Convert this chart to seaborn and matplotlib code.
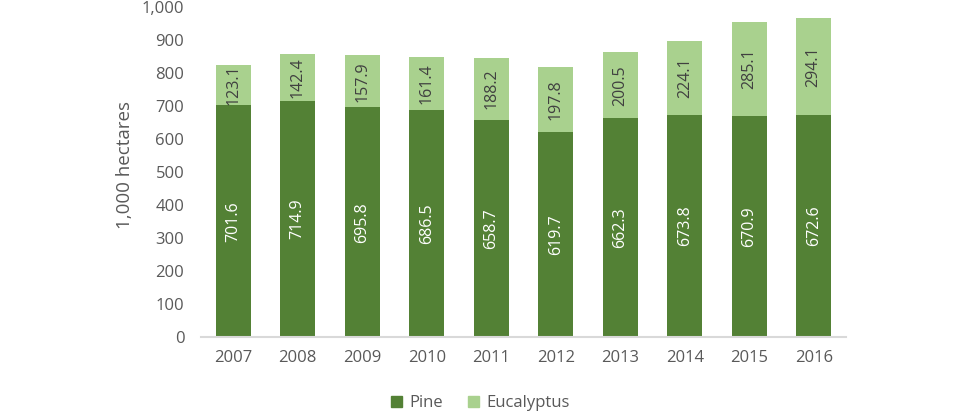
import matplotlib
matplotlib.use("Agg")
import matplotlib.pyplot as plt
import seaborn as sns
import pandas as pd
from matplotlib.patches import Patch
from matplotlib.ticker import FuncFormatter

years = ["2007", "2008", "2009", "2010", "2011", "2012", "2013", "2014", "2015", "2016"]
pine = [701.6, 714.9, 695.8, 686.5, 658.7, 619.7, 662.3, 673.8, 670.9, 672.6]
eucalyptus = [123.1, 142.4, 157.9, 161.4, 188.2, 197.8, 200.5, 224.1, 285.1, 294.1]

PINE_C = "#538135"
EUC_C = "#A9D18E"
TXT_C = "#595959"

sns.set_theme(style="white")
plt.rcParams["font.family"] = ["Open Sans", "DejaVu Sans"]

df = pd.DataFrame({"year": years, "pine": pine, "euc": eucalyptus})
df["total"] = df["pine"] + df["euc"]

fig = plt.figure(figsize=(9.6, 4.12), dpi=100)
ax = fig.add_axes([201 / 960, 1 - 337 / 412, 645 / 960, 330 / 412])

sns.barplot(data=df, x="year", y="total", color=EUC_C, saturation=1, width=0.54,
            linewidth=0, ax=ax)
sns.barplot(data=df, x="year", y="pine", color=PINE_C, saturation=1, width=0.54,
            linewidth=0, ax=ax)

for i, (p, e) in enumerate(zip(pine, eucalyptus)):
    ax.text(i, p / 2, f"{p:.1f}", rotation=90, ha="center", va="center",
            color="white", fontsize=11.5)
    ax.text(i, p + e / 2, f"{e:.1f}", rotation=90, ha="center", va="center",
            color="#404040", fontsize=11.5)

ax.set_xlim(-0.5, 9.5)
ax.set_ylim(0, 1000)
ax.set_yticks(range(0, 1001, 100))
ax.yaxis.set_major_formatter(FuncFormatter(lambda v, _: f"{int(v):,}"))
ax.tick_params(axis="both", length=0, labelsize=12, labelcolor=TXT_C)
ax.tick_params(axis="x", pad=9)
ax.tick_params(axis="y", pad=12)
ax.set_xlabel("")
ax.set_ylabel("1,000 hectares", fontsize=13.5, color=TXT_C)
ax.yaxis.set_label_coords(-0.104, 0.52)

for s in ["top", "right", "left"]:
    ax.spines[s].set_visible(False)
ax.spines["bottom"].set_color("#d9d9d9")
ax.spines["bottom"].set_linewidth(1.5)
ax.grid(False)

handles = [Patch(color=PINE_C, label="Pine"), Patch(color=EUC_C, label="Eucalyptus")]
fig.legend(handles=handles, loc="lower center", bbox_to_anchor=(0.5, -0.035), ncol=2,
           frameon=False, fontsize=12, handlelength=0.7, handleheight=0.7,
           handletextpad=0.4, columnspacing=1.5, labelcolor=TXT_C)

fig.savefig("out.png", dpi=100)
